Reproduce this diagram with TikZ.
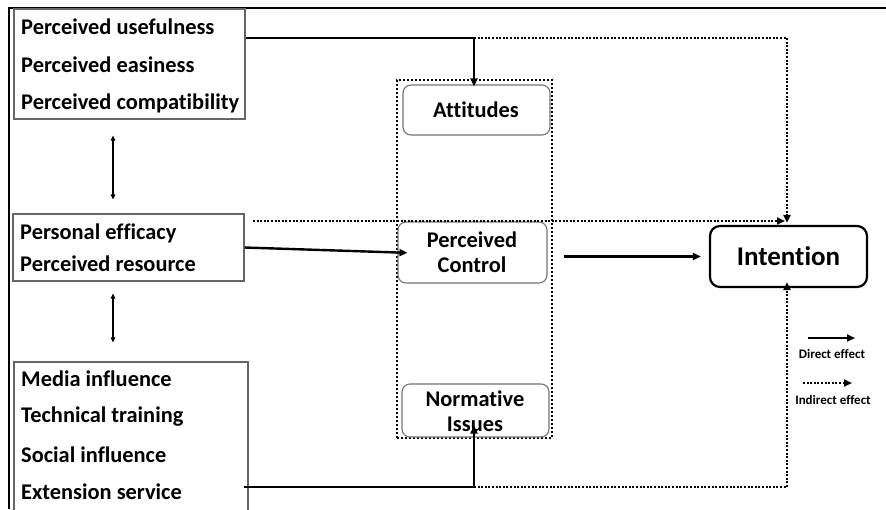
\documentclass[tikz,border=0pt]{standalone}
\usepackage{fontspec}
\setmainfont{Carlito}[Ligatures=NoCommon]
\usetikzlibrary{arrows.meta,calc}
\tikzset{
  plainbox/.style={draw=black!60,line width=1.1pt,inner sep=0pt},
  roundbox/.style={draw=black!55,line width=1.1pt,rounded corners=8pt,inner sep=0pt},
  intbox/.style={draw=black,line width=2.2pt,rounded corners=10pt,inner sep=0pt},
  boundary/.style={draw=black,line width=2.6pt,dash pattern=on 2.4pt off 1.6pt},
  lbl/.style={font=\fontsize{22.4}{26}\selectfont\bfseries,inner sep=0pt},
  clbl/.style={font=\fontsize{22.4}{26}\selectfont\bfseries,inner sep=0pt,align=center},
  leg/.style={font=\fontsize{13}{15}\selectfont\bfseries,inner sep=0pt},
  direct/.style={line width=2.4pt,-{Triangle[length=8pt,width=7pt]}},
  directline/.style={line width=2.4pt},
  indirect/.style={line width=2.2pt,dash pattern=on 2pt off 1.6pt,-{Triangle[length=8pt,width=7pt]}},
  indirectline/.style={line width=2.2pt,dash pattern=on 2pt off 1.6pt},
  dbl/.style={line width=1.4pt,{Triangle[length=5pt,width=4.5pt]}-{Triangle[length=5pt,width=4.5pt]}}
}
\begin{document}
\begin{tikzpicture}[x=1pt,y=-1pt]
\useasboundingbox (0,0) rectangle (886,509);
% frame
\draw[line width=1.8pt] (9,509) -- (9,8) -- (886,8);
% left boxes
\node[plainbox,minimum width=231pt,minimum height=110pt] (b1) at (129.5,64) {};
\node[lbl,anchor=west] (t11) at (21,27) {Perceived usefulness};
\node[lbl,anchor=west] (t12) at (21,65) {Perceived easiness};
\node[lbl,anchor=west] (t13) at (21,103) {Perceived compatibility};
\node[plainbox,minimum width=231pt,minimum height=67pt] (b2) at (128.5,247.5) {};
\node[lbl,anchor=west] (t21) at (20,233) {Personal efficacy};
\node[lbl,anchor=west] (t22) at (20,264) {Perceived resource};
\node[plainbox,minimum width=234pt,minimum height=160pt] (b3) at (131,442) {};
\node[lbl,anchor=west] (t31) at (21,379) {Media influence};
\node[lbl,anchor=west] (t32) at (21,417) {Technical training};
\node[lbl,anchor=west] (t33) at (21,455) {Social influence};
\node[lbl,anchor=west] (t34) at (21,492) {Extension service};
% middle container
\node[boundary,minimum width=155pt,minimum height=358pt,inner sep=0pt] (cont) at (474.5,259) {};
\node[roundbox,minimum width=147pt,minimum height=50pt] (att) at (476.5,110) {};
\node[clbl] (attt) at (476,110) {Attitudes};
\node[roundbox,minimum width=149pt,minimum height=61pt] (pc) at (472.5,252.5) {};
\node[clbl] (pct) at (472,252) {Perceived\\[-1pt]Control};
\node[roundbox,minimum width=147pt,minimum height=53pt] (ni) at (475.5,410.5) {};
\node[clbl] (nit) at (475,411) {Normative\\[-1pt]Issues};
% intention
\node[intbox,minimum width=157pt,minimum height=61pt,font=\fontsize{27}{32}\selectfont\bfseries] (int) at (788.5,256.5) {Intention};
% helper coordinates
\coordinate (ax) at (113,0);
\coordinate (j1) at (474,38);
\coordinate (c1) at (787,38);
\coordinate (j3) at (474,487);
\coordinate (c3) at (787,487);
\coordinate (d0) at (253,221);
\coordinate (d1) at (785,221);
% double arrows
\draw[dbl,shorten <=16pt,shorten >=14pt] (b1.south -| ax) -- (b2.north -| ax);
\draw[dbl,shorten <=12pt,shorten >=19pt] (b2.south -| ax) -- (b3.north -| ax);
% direct paths
\draw[directline] (b1.east |- j1) -- (j1);
\draw[direct,shorten >=-2pt] (j1) -- (att.north -| j1);
\draw[direct,shorten >=-10pt] (b2.east) -- (pc.west);
\draw[direct,shorten <=16pt,shorten >=8pt] (pc.east |- int.west) -- (int.west);
\draw[directline] ([xshift=-5pt]b3.east |- j3) -- (j3);
\draw[direct,shorten >=-12pt] (j3) -- (ni.south -| j3);
% indirect paths
\draw[indirectline] (j1) -- (c1);
\draw[indirect,shorten >=2pt] (c1) -- (int.north -| c1);
\draw[indirect] (d0) -- (d1);
\draw[indirectline] (j3) -- (c3);
\draw[indirect,shorten >=-6pt] (c3) -- (int.south -| c3);
% legend
\coordinate (l1a) at (808,338);
\coordinate (l1b) at (855,338);
\coordinate (l2a) at (803,383);
\coordinate (l2b) at (852,383);
\draw[direct] (l1a) -- (l1b);
\node[leg] (legd) at (832,354) {Direct effect};
\draw[indirect] (l2a) -- (l2b);
\node[leg] (legi) at (833,400) {Indirect effect};
\end{tikzpicture}
\end{document}
